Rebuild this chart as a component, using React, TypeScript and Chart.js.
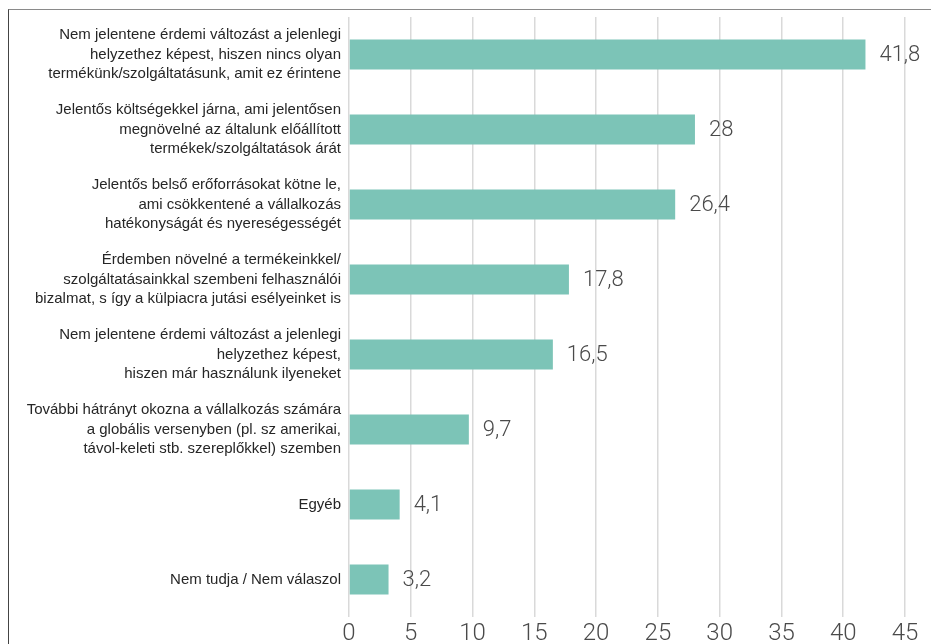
import React, { useEffect, useRef } from "react";
import { Chart, registerables } from "chart.js";

Chart.register(...registerables);

const categories: string[][] = [
  ["Nem jelentene érdemi változást a jelenlegi", "helyzethez képest, hiszen nincs olyan", "termékünk/szolgáltatásunk, amit ez érintene"],
  ["Jelentős költségekkel járna, ami jelentősen", "megnövelné az általunk előállított", "termékek/szolgáltatások árát"],
  ["Jelentős belső erőforrásokat kötne le,", "ami csökkentené a vállalkozás", "hatékonyságát és nyereségességét"],
  ["Érdemben növelné a termékeinkkel/", "szolgáltatásainkkal szembeni felhasználói", "bizalmat, s így a külpiacra jutási esélyeinket is"],
  ["Nem jelentene érdemi változást a jelenlegi", "helyzethez képest,", "hiszen már használunk ilyeneket"],
  ["További hátrányt okozna a vállalkozás számára", "a globális versenyben (pl. sz amerikai,", "távol-keleti stb. szereplőkkel) szemben"],
  ["Egyéb"],
  ["Nem tudja / Nem válaszol"],
];

const values: number[] = [41.8, 28, 26.4, 17.8, 16.5, 9.7, 4.1, 3.2];

const xMin = 0;
const xMax = 45;
const xStep = 5;

const valueLabelPlugin = {
  id: "valueLabels",
  afterDatasetsDraw(chart: any) {
    const ctx = chart.ctx;
    const meta = chart.getDatasetMeta(0);
    ctx.save();
    ctx.font = "300 22px Roboto, 'Open Sans', sans-serif";
    ctx.fillStyle = "#4a4a4a";
    ctx.textAlign = "left";
    ctx.textBaseline = "middle";
    meta.data.forEach((bar: any, i: number) => {
      const txt = String(values[i]).replace(".", ",");
      ctx.fillText(txt, bar.x + 14, bar.y + 1);
    });
    ctx.restore();
  },
};

export default function App() {
  const canvasRef = useRef<HTMLCanvasElement | null>(null);

  useEffect(() => {
    const canvas = canvasRef.current;
    if (!canvas) return;
    const chart = new Chart(canvas, {
      type: "bar",
      data: {
        labels: categories,
        datasets: [
          {
            data: values,
            backgroundColor: "#7cc4b7",
            borderWidth: 0,
            barPercentage: 0.8,
            categoryPercentage: 0.5,
          },
        ],
      },
      options: {
        indexAxis: "y",
        animation: false,
        responsive: false,
        devicePixelRatio: 1,
        layout: { padding: { top: 17, right: 26, bottom: 0, left: 0 } },
        plugins: {
          legend: { display: false },
          tooltip: { enabled: false },
        },
        scales: {
          x: {
            min: xMin,
            max: xMax,
            ticks: {
              stepSize: xStep,
              padding: 3,
              color: "#4a4a4a",
              font: { family: "Roboto, 'Open Sans', sans-serif", size: 24, weight: "300" },
            },
            grid: { color: "#d9d9d9", lineWidth: 1.5, drawTicks: false },
            border: { display: false },
            afterFit: (scale: any) => {
              scale.height = 27;
              scale.paddingLeft = 0;
              scale.paddingRight = 0;
            },
          },
          y: {
            ticks: {
              padding: 8,
              color: "#262626",
              font: { family: "'Liberation Sans', Arial, sans-serif", size: 15, lineHeight: 1.3 },
            },
            grid: { display: false, drawTicks: false },
            border: { display: false },
            afterFit: (scale: any) => {
              scale.width = 349;
              scale.paddingTop = 0;
              scale.paddingBottom = 0;
            },
          },
        },
      },
      plugins: [valueLabelPlugin],
    });
    return () => chart.destroy();
  }, []);

  return (
    <div
      style={{
        position: "fixed",
        left: 0,
        top: 0,
        width: 931,
        height: 644,
        background: "#ffffff",
        overflow: "hidden",
      }}
    >
      <canvas ref={canvasRef} width={931} height={644} style={{ position: "absolute", left: 0, top: 0 }} />
      <div
        style={{
          position: "absolute",
          left: 8,
          top: 9,
          width: 940,
          height: 700,
          borderTop: "1.5px solid #8a8a8a",
          borderLeft: "1.5px solid #444444",
          pointerEvents: "none",
        }}
      />
    </div>
  );
}
